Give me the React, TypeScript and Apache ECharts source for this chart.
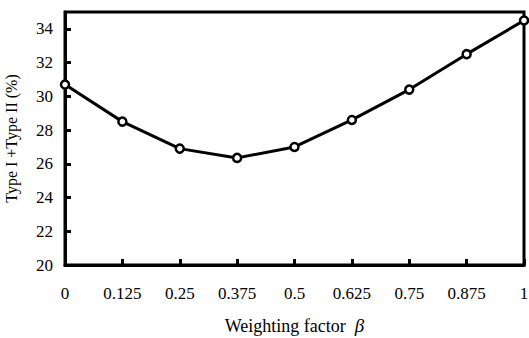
import React, { useEffect, useRef } from "react";
import * as echarts from "echarts";

const betaValues = [0, 0.125, 0.25, 0.375, 0.5, 0.625, 0.75, 0.875, 1];
const errorRates = [30.7, 28.5, 26.9, 26.35, 27.0, 28.6, 30.4, 32.5, 34.5];
const yAxisTitle = "Type I +Type II (%)";
const xAxisTitle = "Weighting factor  {b|β}";

export default function App() {
  const ref = useRef<HTMLDivElement>(null);
  useEffect(() => {
    document.body.style.margin = "0";
    const chart = echarts.init(ref.current!, null, { renderer: "svg" });
    const font = "Liberation Serif";
    chart.setOption({
      animation: false,
      backgroundColor: "#fff",
      textStyle: { fontFamily: font },
      grid: {
        left: 65,
        right: 5,
        top: 12,
        bottom: 73,
        outerBoundsMode: "none",
        show: true,
        borderColor: "#000",
        borderWidth: 3,
      },
      xAxis: {
        type: "value",
        min: 0,
        max: 1,
        interval: 0.125,
        name: xAxisTitle,
        nameLocation: "middle",
        nameGap: 51,
        nameTextStyle: {
          fontFamily: font,
          fontSize: 18,
          color: "#000",
          rich: { b: { fontFamily: font, fontSize: 19, fontStyle: "italic", color: "#000" } },
        },
        axisLine: { show: true, lineStyle: { color: "#000", width: 3 } },
        axisTick: { show: true, inside: true, length: 6, lineStyle: { color: "#000", width: 3 } },
        axisLabel: { fontFamily: font, fontSize: 17, color: "#000", margin: 20 },
        splitLine: { show: false },
      },
      yAxis: {
        type: "value",
        min: 20,
        max: 35,
        interval: 2,
        name: yAxisTitle,
        nameLocation: "middle",
        nameRotate: 90,
        nameGap: 46,
        nameTextStyle: { fontFamily: font, fontSize: 16, color: "#000" },
        axisLine: { show: true, lineStyle: { color: "#000", width: 3 } },
        axisTick: { show: true, inside: true, length: 6, lineStyle: { color: "#000", width: 3 } },
        axisLabel: {
          fontFamily: font,
          fontSize: 17,
          color: "#000",
          margin: 12,
          showMaxLabel: false,
        },
        splitLine: { show: false },
      },
      series: [
        {
          type: "line",
          data: betaValues.map((b, i) => [b, errorRates[i]]),
          symbol: "circle",
          symbolSize: 8,
          lineStyle: { color: "#000", width: 3 },
          itemStyle: { color: "#fff", borderColor: "#000", borderWidth: 2.5 },
          clip: false,
        },
      ],
    });
    return () => chart.dispose();
  }, []);
  return <div ref={ref} style={{ width: 529, height: 338 }} />;
}
